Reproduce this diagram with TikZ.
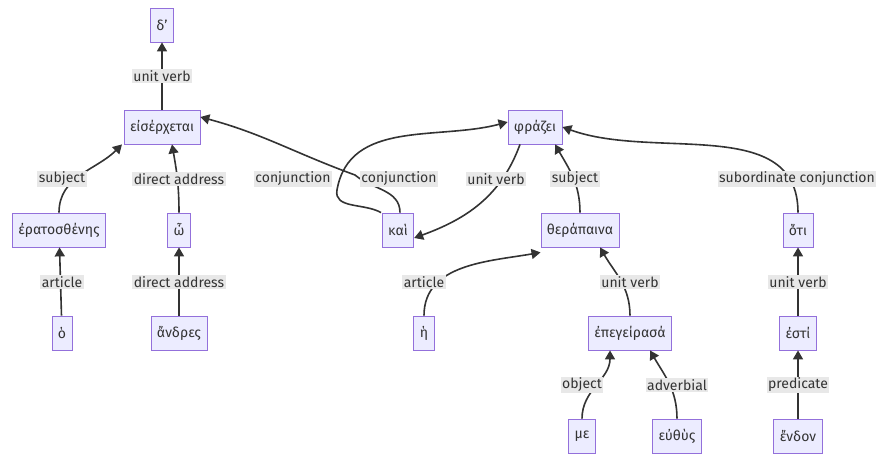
\documentclass[tikz,border=0pt]{standalone}
\usepackage{fontspec}
\setmainfont{Fira Sans}
\usetikzlibrary{arrows.meta}
\definecolor{boxfill}{HTML}{ECECFF}
\definecolor{boxline}{HTML}{9370DB}
\definecolor{lblfill}{HTML}{E8E8E8}
\definecolor{ink}{HTML}{333333}
\tikzset{
  word/.style={draw=boxline,fill=boxfill,line width=0.8pt,inner xsep=6pt,minimum height=34pt,font=\fontsize{14}{16}\selectfont,text=ink},
  rel/.style={fill=lblfill,inner sep=1.5pt,font=\fontsize{14}{16}\selectfont,text=ink},
  dep/.style={draw=ink,line width=1.6pt,-{Triangle[length=9pt,width=10pt]}}
}
\begin{document}
\begin{tikzpicture}[x=1pt,y=-1pt]
  \useasboundingbox (0,0) rectangle (895,462);
  % heads
  \node[word] (delta) at (162,25) {δ'};
  \node[word] (eiserx) at (162,127) {εἰσέρχεται};
  \node[word] (phrazei) at (535,127) {φράζει};
  % second row
  \node[word] (erat) at (59,230) {ἐρατοσθένης};
  \node[word] (o) at (179,230) {ὦ};
  \node[word] (kai) at (398,230) {καὶ};
  \node[word] (therap) at (580,230) {θεράπαινα};
  \node[word] (hoti) at (798,230) {ὅτι};
  % third row
  \node[word] (ho) at (62,333) {ὁ};
  \node[word] (andres) at (179,333) {ἄνδρες};
  \node[word] (he) at (424,333) {ἡ};
  \node[word] (epeg) at (630,333) {ἐπεγείρασά};
  \node[word] (esti) at (798,333) {ἐστί};
  % bottom row
  \node[word] (me) at (582,436) {με};
  \node[word] (euthus) at (677,436) {εὐθὺς};
  \node[word] (endon) at (798,436) {ἔνδον};
  % edges
  \draw[dep] (eiserx) -- (delta);
  \draw[dep] (erat.north) to[out=90,in=-135] ([xshift=-40pt]eiserx.south);
  \draw[dep] (o.north) to[out=90,in=-80] ([xshift=10pt]eiserx.south);
  \draw[dep] (ho) -- (erat);
  \draw[dep] (andres) -- (o);
  \draw[dep] ([xshift=-17pt]kai.north) to[out=150,in=-100] (337,190) to[out=80,in=195] ([yshift=5pt]phrazei.west);
  \draw[dep] ([xshift=2pt]kai.north) to[out=90,in=-40] (355,175) to[out=160,in=-15] ([yshift=10pt]eiserx.east);
  \draw[dep] ([xshift=-15pt]phrazei.south) to[out=-110,in=20] ([yshift=-8pt]kai.east);
  \draw[dep] (therap.north) to[out=90,in=-60] ([xshift=20pt]phrazei.south);
  \draw[dep] (hoti.north) to[out=90,in=-20] (phrazei.east);
  \draw[dep] (he.north) to[out=90,in=190] ([yshift=-5pt]therap.south west);
  \draw[dep] (epeg.north) to[out=90,in=-60] ([xshift=20pt]therap.south);
  \draw[dep] (me.north) to[out=90,in=-90] ([xshift=-20pt]epeg.south);
  \draw[dep] (euthus.north) to[out=90,in=-60] ([xshift=20pt]epeg.south);
  \draw[dep] (esti) -- (hoti);
  \draw[dep] (endon) -- (esti);
  % relation labels
  \node[rel] (l1) at (162,76) {unit verb};
  \node[rel] (l2) at (62,179) {subject};
  \node[rel] (l3) at (179,179) {direct address};
  \node[rel] (l4) at (293,179) {conjunction};
  \node[rel] (l5) at (399,179) {conjunction};
  \node[rel] (l6) at (496,179) {unit verb};
  \node[rel] (l7) at (575,179) {subject};
  \node[rel] (l8) at (797,179) {subordinate conjunction};
  \node[rel] (l9) at (62,282) {article};
  \node[rel] (l10) at (179,282) {direct address};
  \node[rel] (l11) at (424,282) {article};
  \node[rel] (l12) at (630,282) {unit verb};
  \node[rel] (l13) at (798,282) {unit verb};
  \node[rel] (l14) at (582,385) {object};
  \node[rel] (l15) at (677,385) {adverbial};
  \node[rel] (l16) at (798,385) {predicate};
\end{tikzpicture}
\end{document}
